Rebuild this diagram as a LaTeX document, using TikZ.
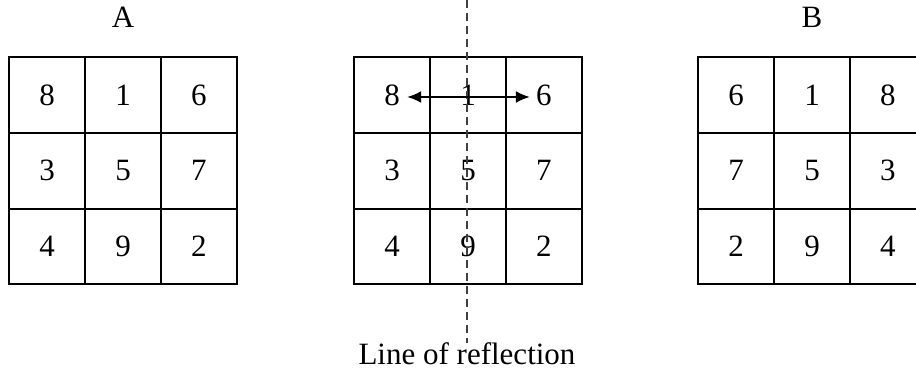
\documentclass[tikz,border=0pt]{standalone}
\usepackage{fontspec}
\setmainfont{Liberation Serif}
\usetikzlibrary{arrows.meta,positioning}

\begin{document}
\begin{tikzpicture}[
  x=0.5pt, y=-0.5pt,
  font=\fontsize{15.5}{18}\selectfont,
  cell/.style={draw, line width=1pt, minimum width=37.9pt, minimum height=37.9pt, inner sep=0pt},
  ttl/.style={inner sep=0pt},
  mirror/.style={line width=0.6pt, dash pattern=on 4pt off 2.5pt, black!75},
  arr/.style={{Latex[length=7pt,width=6pt]}-{Latex[length=7pt,width=6pt]}, line width=0.9pt}
]
\useasboundingbox (0,0) rectangle (916,378);
\clip (0,0) rectangle (916,378);

% ---------- Squares: A, mirrored copy, B ----------
\foreach \g/\cx/\vals in {a/123/{8,1,6,3,5,7,4,9,2},
                          m/468/{8,1,6,3,5,7,4,9,2},
                          b/812/{6,1,8,7,5,3,2,9,4}}
  \foreach \v [count=\k from 0] in \vals {
    \pgfmathtruncatemacro\r{div(\k,3)+1}
    \pgfmathtruncatemacro\c{mod(\k,3)+1}
    \node[cell] (\g-\r-\c) at (\cx+75.8*\c-151.6, 95+75.8*\r-75.8) {\v};
  }

% ---------- Titles ----------
\node[ttl, above=14pt of a-1-2.north] (titleA) {A};
\node[ttl, above=14pt of b-1-2.north] (titleB) {B};

% ---------- Line of reflection ----------
\node[ttl] (lbl) at (467,354) {Line of reflection};
\coordinate (mtop) at (467,0);
\draw[mirror] (mtop) -- (lbl.north);

% ---------- Swap arrow ----------
\draw[arr] ([xshift=7.5pt,yshift=-1pt]m-1-1.center) -- ([xshift=-7pt,yshift=-1pt]m-1-3.center);
\end{tikzpicture}
\end{document}
